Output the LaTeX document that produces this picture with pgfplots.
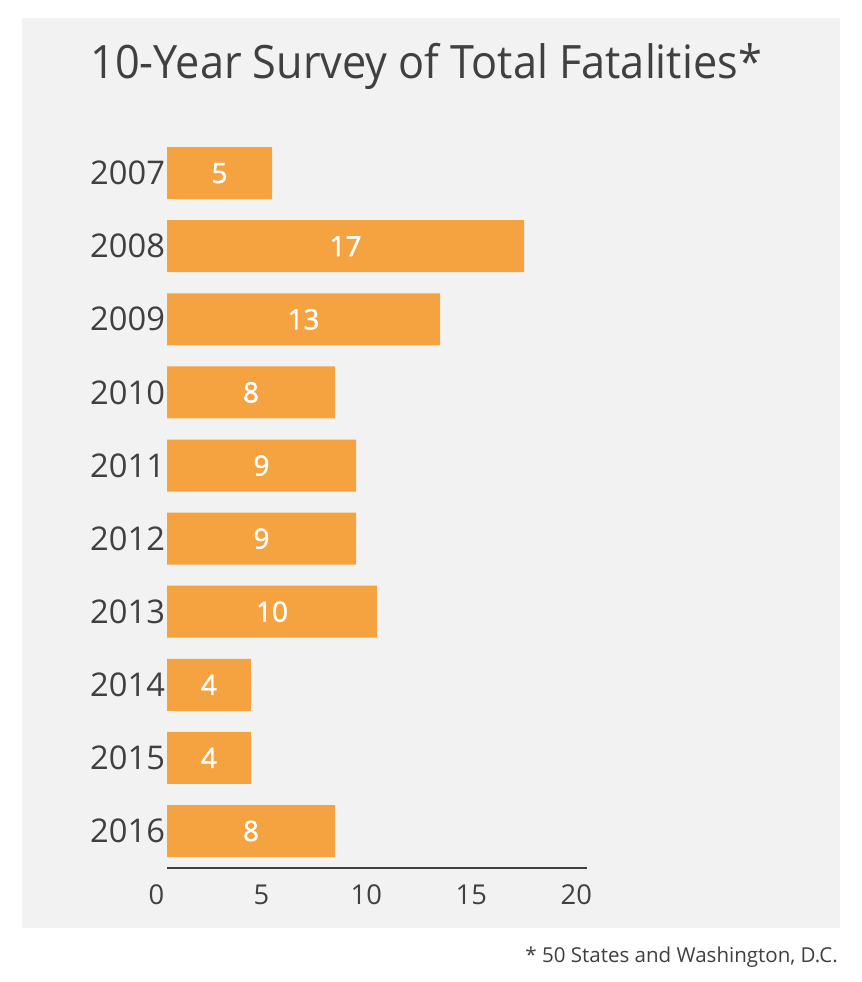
\documentclass[border=0pt]{standalone}
\usepackage{pgfplots}
\pgfplotsset{compat=1.18}
\usepackage{pgfplotstable}
\usepackage{fontspec}
\setmainfont{Open Sans}
\newfontfamily\titlefont{Open Sans}[FakeStretch=0.94]
\newfontfamily\semifont{Open Sans}[FakeBold=1.4]
\definecolor{bg}{HTML}{F2F2F2}
\definecolor{barc}{HTML}{F4A340}
\definecolor{txt}{HTML}{404040}
\pgfplotstableread{
y v h
0 5 2.5
1 17 8.5
2 13 6.5
3 8 4
4 9 4.5
5 9 4.5
6 10 5
7 4 2
8 4 2
9 8 4
}\data
\begin{document}
\begin{tikzpicture}
\fill[white] (0,0) rectangle (646.5pt,-736.5pt);
\fill[bg] (16.5pt,-13.5pt) rectangle (630pt,-696pt);
\node[anchor=base west, font=\titlefont\fontsize{34.5}{40}\selectfont, text=txt, inner sep=0] at (67.5pt,-58.5pt) {10-Year Survey of Total Fatalities*};
\node[anchor=base east, font=\fontsize{15.4}{18}\selectfont, text=txt, inner sep=0] at (628.5pt,-722pt) {* 50 States and Washington, D.C.};
\begin{axis}[
  at={(125.25pt,-651pt)}, anchor=south west,
  width=315pt, height=548.6pt, scale only axis,
  xmin=0, xmax=20, ymin=-0.5, ymax=9.506, y dir=reverse,
  axis x line=bottom, axis y line=left,
  axis line style={-},
  x axis line style={draw=txt, line width=1.5pt},
  y axis line style={draw=none},
  major tick length=0pt,
  xtick={0,5,10,15,20},
  ytick={0,...,9},
  yticklabels={2007,2008,2009,2010,2011,2012,2013,2014,2015,2016},
  /pgf/number format/assume math mode=true,
  xticklabel style={font=\fontsize{20.5}{24}\selectfont, text=txt, yshift=-9pt, xshift=-8pt},
  yticklabel style={font=\fontsize{24.5}{28}\selectfont, text=txt, xshift=2pt},
  clip=false,
]
\addplot[xbar, bar width=39pt, fill=barc, draw=none] table[x=v, y=y]{\data};
\addplot[only marks, mark=none, nodes near coords, point meta=explicit symbolic,
  nodes near coords style={text=white, anchor=center, font=\semifont\fontsize{21}{25}\selectfont}]
  table[x=h, y=y, meta=v]{\data};
\end{axis}
\end{tikzpicture}
\end{document}
